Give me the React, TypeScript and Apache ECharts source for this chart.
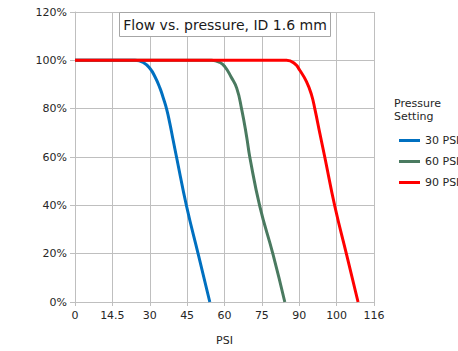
import React, { useEffect, useRef } from "react";
import * as echarts from "echarts";

const xTickLabels = ["0", "14.5", "30", "45", "60", "75", "90", "100", "116"];
const seriesNames = ["30 PSI", "60 PSI", "90 PSI"];
const seriesColors = ["#0070C0", "#4A7A60", "#FF0000"];

const psi30X = [0, 24.1, 27.4, 30.1, 32.1, 34.1, 35.4, 36.8, 38.1, 39.4, 40.8, 44.8, 49.5, 54.1];
const psi30Y = [100, 100, 99.1, 96.6, 93.2, 88.5, 84.5, 79.7, 73.7, 66.9, 59.7, 39.5, 19.6, 0];

const psi60X = [0, 54.8, 58.2, 60.2, 62.6, 64.9, 66.9, 68.9, 70.2, 74.2, 79.5, 84.2];
const psi60Y = [100, 100, 99.1, 97.3, 93.2, 88.5, 79.7, 68.3, 59.7, 39.5, 19.6, 0];

const psi90X = [0, 84.9, 88.2, 90.2, 92.9, 94.9, 96.3, 98.3, 100.3, 104.3, 109.0, 113.6];
const psi90Y = [100, 100, 98.6, 95.9, 91.2, 85.8, 79.7, 69.6, 59.7, 39.5, 19.6, 0];

const FONT = "DejaVu Sans";

function pairs(xs: number[], ys: number[]) {
  return xs.map((x, i) => [x, ys[i]]);
}

export default function App() {
  const ref = useRef<HTMLDivElement>(null);
  useEffect(() => {
    if (!ref.current) return;
    const chart = echarts.init(ref.current, undefined, { renderer: "svg" });
    const data = [pairs(psi30X, psi30Y), pairs(psi60X, psi60Y), pairs(psi90X, psi90Y)];
    chart.setOption({
      animation: false,
      backgroundColor: "#ffffff",
      textStyle: { fontFamily: FONT },
      grid: { left: 75, right: 84, top: 12, bottom: 44, containLabel: false },
      xAxis: {
        type: "value",
        min: 0,
        max: 120,
        interval: 15,
        name: "PSI",
        nameLocation: "middle",
        nameGap: 33,
        nameTextStyle: { fontFamily: FONT, fontSize: 11, color: "#262626" },
        axisLine: { show: true, lineStyle: { color: "#bfbfbf", width: 1 } },
        axisTick: { show: true, length: 4, lineStyle: { color: "#bfbfbf" } },
        axisLabel: {
          fontFamily: FONT,
          fontSize: 11,
          color: "#262626",
          margin: 8,
          formatter: (v: number) => xTickLabels[Math.round(v / 15)] ?? "",
        },
        splitLine: { show: true, lineStyle: { color: "#bfbfbf", width: 1 } },
      },
      yAxis: {
        type: "value",
        min: 0,
        max: 120,
        interval: 20,
        axisLine: { show: true, lineStyle: { color: "#bfbfbf", width: 1 } },
        axisTick: { show: true, length: 5, lineStyle: { color: "#bfbfbf" } },
        axisLabel: {
          fontFamily: FONT,
          fontSize: 11,
          color: "#262626",
          margin: 8,
          formatter: "{value}%",
        },
        splitLine: { show: true, lineStyle: { color: "#bfbfbf", width: 1 } },
      },
      legend: {
        orient: "vertical",
        left: 394,
        top: 130,
        itemWidth: 21,
        itemHeight: 12,
        itemGap: 10,
        data: seriesNames.map((n, i) => ({
          name: n,
          icon: "path://M0,0 L21,0 L21,3 L0,3 Z",
          itemStyle: { color: seriesColors[i] },
        })),
        textStyle: { fontFamily: FONT, fontSize: 11, color: "#262626" },
      },
      graphic: [
        {
          type: "rect",
          shape: { x: 119.5, y: 12.5, width: 211, height: 24 },
          style: { fill: "#ffffff", stroke: "#a6a6a6", lineWidth: 1 },
          z: 10,
        },
        {
          type: "text",
          x: 225,
          y: 24.5,
          style: {
            text: "Flow vs. pressure, ID 1.6 mm",
            fontFamily: FONT,
            fontSize: 14,
            fill: "#1a1a1a",
            align: "center",
            verticalAlign: "middle",
          },
          z: 11,
        },
        {
          type: "text",
          left: 394,
          top: 97,
          style: {
            text: "Pressure\nSetting",
            fontFamily: FONT,
            fontSize: 11,
            lineHeight: 13,
            fill: "#262626",
          },
        },
      ],
      series: seriesNames.map((n, i) => ({
        name: n,
        type: "line",
        data: data[i],
        smooth: 0.5,
        symbol: "none",
        lineStyle: { color: seriesColors[i], width: 3 },
        itemStyle: { color: seriesColors[i] },
      })),
    });
    return () => chart.dispose();
  }, []);
  return (
    <div
      ref={ref}
      style={{ position: "absolute", left: 0, top: 0, width: 458, height: 351 }}
    />
  );
}
